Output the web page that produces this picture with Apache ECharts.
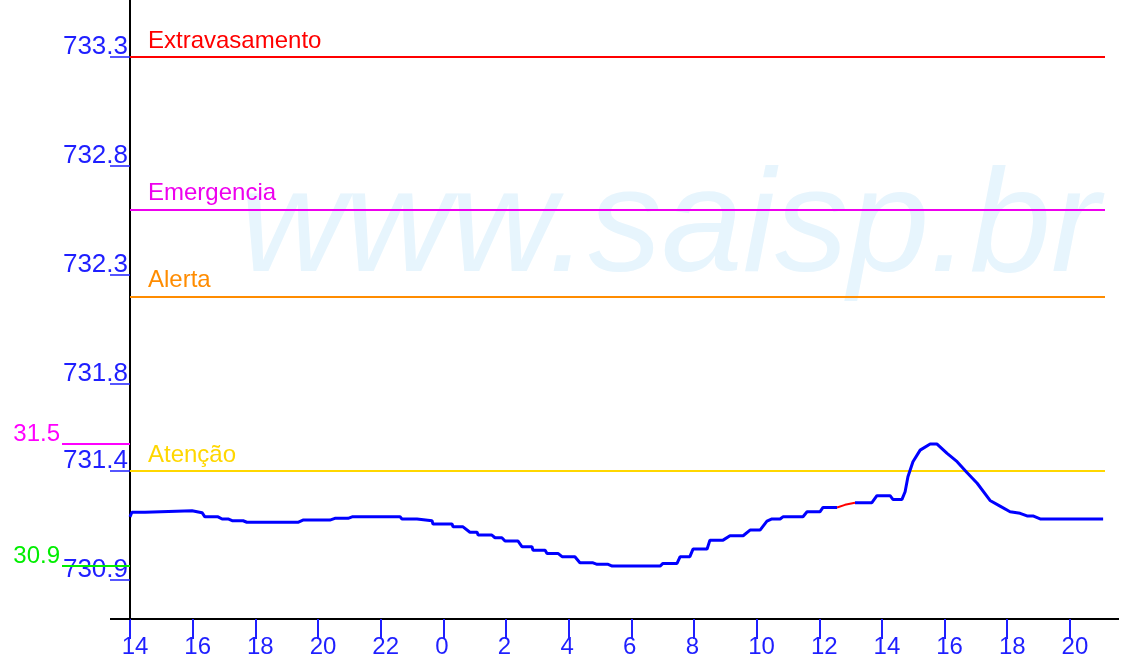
<!DOCTYPE html>
<html>
<head>
<meta charset="utf-8">
<script src="https://cdn.jsdelivr.net/npm/echarts@6/dist/echarts.min.js"></script>
<style>
html,body{margin:0;padding:0;background:#fff;}
#chart{width:1131px;height:663px;}
</style>
</head>
<body>
<div id="chart"></div>
<script>
// ---- data ----
const startHour = 14; // x value 0 = 14h of day 1
const hours = [0, 0.06, 0.48, 0.54, 1.98, 2.01, 2.30, 2.39, 2.81, 2.94, 3.13, 3.26, 3.61, 3.73, 5.36, 5.52, 6.38, 6.54, 6.96, 7.09,
  8.62, 8.68, 9.16, 9.19, 9.64, 9.67, 10.28, 10.31, 10.63, 10.85, 11.08, 11.11, 11.55, 11.65, 11.87, 11.97, 12.38, 12.51, 12.83, 12.86,
  13.25, 13.31, 13.66, 13.79, 14.20, 14.36, 14.78, 14.91, 15.26, 15.39, 16.92, 17.01, 17.46, 17.56, 17.87, 17.97, 18.42, 18.51, 18.93, 19.15,
  19.57, 19.79, 20.11, 20.33, 20.49, 20.75, 20.84, 21.48, 21.61, 22.02, 22.12, 22.57, 22.82, 23.14, 23.68, 23.84, 24.26, 24.35, 24.64, 24.74,
  24.83, 24.99, 25.22, 25.54, 25.76, 26.08, 26.40, 26.72, 27.04, 27.45, 27.77, 28.09, 28.41, 28.63, 28.82, 29.05, 31.06];
const levels = [731.190, 731.211, 731.211, 731.218, 731.218, 731.209, 731.209, 731.190, 731.190, 731.180, 731.180, 731.172, 731.172, 731.165, 731.165, 731.175, 731.175, 731.183, 731.183, 731.190,
  731.190, 731.180, 731.180, 731.172, 731.172, 731.157, 731.157, 731.144, 731.144, 731.119, 731.119, 731.106, 731.106, 731.094, 731.094, 731.079, 731.079, 731.053, 731.053, 731.037,
  731.037, 731.022, 731.022, 731.007, 731.007, 730.979, 730.979, 730.972, 730.972, 730.964, 730.964, 730.976, 730.976, 731.007, 731.007, 731.042, 731.042, 731.083, 731.083, 731.103,
  731.103, 731.129, 731.129, 731.170, 731.180, 731.180, 731.190, 731.190, 731.213, 731.213, 731.233, 731.233, 731.245, 731.255, 731.255, 731.287, 731.287, 731.270, 731.270, 731.305,
  731.374, 731.443, 731.496, 731.524, 731.524, 731.481, 731.443, 731.392, 731.344, 731.265, 731.239, 731.213, 731.206, 731.194, 731.194, 731.180, 731.180];
// segment drawn in red (estimated readings)
const estHours = [22.57, 22.82, 23.14];
const estLevels = [731.233, 731.245, 731.255];

const xTickValues = [0, 2, 4, 6, 8, 10, 12, 14, 16, 18, 20, 22, 24, 26, 28, 30];
const yTickValues = [730.9, 731.4, 731.8, 732.3, 732.8, 733.3];

const thresholdNames = ['Extravasamento', 'Emergencia', 'Alerta', 'Atenção'];
const thresholdValues = [733.3, 732.6, 732.2, 731.4];
const thresholdColors = ['#ff0000', '#ee00ee', '#ff8c00', '#ffd700'];

const extremeLabels = ['31.5', '30.9'];       // visible (clipped) max / min labels
const extremeColors = ['#ff00ff', '#00ee00'];
const watermark = 'www.saisp.br';

// ---- chart ----
const FONT = 'Liberation Sans';
const BLUE = '#1f1fff';
const chart = echarts.init(document.getElementById('chart'), null, {renderer: 'canvas'});

const estStart = estHours[0], estEnd = estHours[estHours.length - 1];
const mainData = hours.map((h, i) => (h > estStart && h < estEnd) ? [h, '-'] : [h, levels[i]]);
const estData = estHours.map((h, i) => [h, estLevels[i]]);

const option = {
  animation: false,
  backgroundColor: '#ffffff',
  grid: {left: 130, right: 26, top: 0, bottom: 44, containLabel: false},
  xAxis: {
    type: 'value',
    min: 0,
    max: 31.12,
    axisLine: {show: true, lineStyle: {color: '#000', width: 2}},
    axisTick: {show: true, customValues: xTickValues, length: 20, lineStyle: {color: BLUE, width: 2}},
    axisLabel: {
      customValues: xTickValues,
      formatter: v => {
        const s = String((startHour + Math.round(v)) % 24);
        return s.length > 1 ? '{d|' + s + '}' : '{s|' + s + '}';
      },
      color: BLUE, fontFamily: FONT, fontSize: 24, margin: 17, lineHeight: 23,
      rich: {
        d: {color: BLUE, fontFamily: FONT, fontSize: 24, lineHeight: 23, padding: [0, 0, 0, 10]},
        s: {color: BLUE, fontFamily: FONT, fontSize: 24, lineHeight: 23, padding: [0, 3, 0, 0]}
      }
    },
    splitLine: {show: false}
  },
  yAxis: {
    type: 'value',
    min: 730.721,
    max: 733.562,
    axisLine: {show: true, lineStyle: {color: '#000', width: 2}},
    axisTick: {show: true, customValues: yTickValues, length: 20, lineStyle: {color: BLUE, width: 1.5}},
    axisLabel: {
      customValues: yTickValues,
      formatter: v => v.toFixed(1),
      color: BLUE, fontFamily: FONT, fontSize: 26, margin: 2,
      verticalAlign: 'bottom', lineHeight: 20
    },
    splitLine: {show: false}
  },
  series: [
    {
      type: 'line',
      data: mainData,
      showSymbol: false,
      smooth: false,
      connectNulls: false,
      z: 5,
      lineStyle: {color: '#0000ff', width: 3},
      markLine: {
        silent: true,
        symbol: 'none',
        animation: false,
        data: thresholdValues.map((v, i) => ({
          yAxis: v,
          lineStyle: {color: thresholdColors[i], width: 2, type: 'solid'},
          label: {
            show: true,
            formatter: thresholdNames[i],
            position: 'insideStartTop',
            distance: [18, 6],
            color: thresholdColors[i],
            fontFamily: FONT,
            fontSize: 24,
            lineHeight: 20
          }
        }))
      }
    },
    {
      type: 'line',
      data: estData,
      showSymbol: false,
      z: 6,
      lineStyle: {color: '#ff0000', width: 2}
    }
  ]
};
chart.setOption(option);

// decorations computed through the chart's own scales
function buildGraphics() {
  const maxV = Math.max(...levels);
  const minV = Math.min(...levels);
  const origin = chart.convertToPixel({gridIndex: 0}, [0, 730.721]);
  const xEnd = chart.convertToPixel({gridIndex: 0}, [31.12, 730.721]);
  const pMax = chart.convertToPixel({gridIndex: 0}, [0, maxV]);
  const pMin = chart.convertToPixel({gridIndex: 0}, [0, minV]);
  const wmLeft = chart.convertToPixel({gridIndex: 0}, [3.5, 733.0]);
  const elements = [
    {
      type: 'text', z: -10, silent: true,
      style: {
        text: watermark, x: wmLeft[0], y: 230,
        font: 'italic 146px "Liberation Sans"',
        fill: '#e7f5fd', align: 'left', verticalAlign: 'middle'
      }
    },
    {
      type: 'line', z: 10, silent: true,
      shape: {x1: origin[0] - 20, y1: origin[1], x2: origin[0], y2: origin[1]},
      style: {stroke: '#000', lineWidth: 2}
    },
    {
      type: 'line', z: 10, silent: true,
      shape: {x1: xEnd[0], y1: xEnd[1], x2: xEnd[0] + 14, y2: xEnd[1]},
      style: {stroke: '#000', lineWidth: 2}
    }
  ];
  [pMax, pMin].forEach((p, i) => {
    elements.push({
      type: 'line', z: 10, silent: true,
      shape: {x1: p[0] - 68, y1: p[1], x2: p[0], y2: p[1]},
      style: {stroke: extremeColors[i], lineWidth: 2}
    });
    elements.push({
      type: 'text', z: 10, silent: true,
      style: {
        text: extremeLabels[i], x: p[0] - 70, y: p[1],
        font: '24px "Liberation Sans"', fill: extremeColors[i],
        align: 'right', verticalAlign: 'bottom', lineHeight: 20
      }
    });
  });
  chart.setOption({graphic: {elements: elements}});
}
buildGraphics();
</script>
</body>
</html>
